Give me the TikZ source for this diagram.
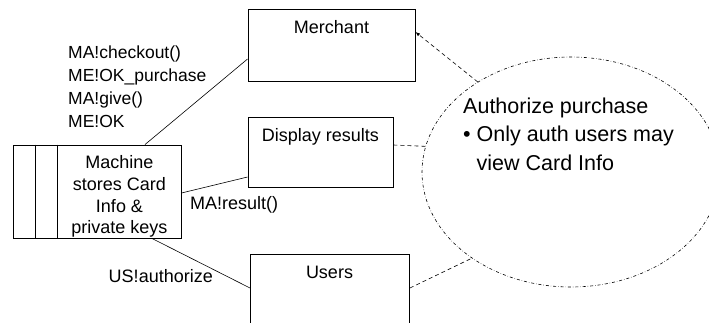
\documentclass[tikz,border=0pt]{standalone}
\usepackage{fontspec}
\setmainfont{Liberation Sans}
\usepackage{tikz}
\usetikzlibrary{arrows}
\usetikzlibrary{shapes.geometric}
\tikzset{box/.style={draw, line width=.9pt, inner sep=0pt}}
\tikzset{t/.style={font=\fontsize{18}{21.7}\selectfont, inner sep=0pt}}
\tikzset{s/.style={font=\fontsize{17.5}{23}\selectfont, inner sep=0pt}}
\tikzset{big/.style={font=\fontsize{21.5}{28.7}\selectfont, inner sep=0pt}}
\tikzset{dsh/.style={dash pattern=on 4pt off 3pt, line width=.6pt}}

\begin{document}
\begin{tikzpicture}[x=1pt,y=-1pt]
        \useasboundingbox (0,0) rectangle (709,322);
        % machine holding the card data
        \node[box, minimum width=168pt, minimum height=93pt] (mach) at (97,191.5) {};
        \draw[line width=.9pt] ([xshift=23pt]mach.north west) -- ([xshift=23pt]mach.south west);
        \draw[line width=.9pt] ([xshift=45pt]mach.north west) -- ([xshift=45pt]mach.south west);
        \node[t, align=center, anchor=north] (macht) at (119.5,155.5) {Machine\\stores Card\\Info \&\\private keys};
        % the other parties
        \node[box, minimum width=167pt, minimum height=72pt] (merchant) at (331.5,45) {};
        \node[t, anchor=base] (merchantt) at (331.5,33.5) {Merchant};
        \node[box, minimum width=145pt, minimum height=70pt] (display) at (320.5,152) {};
        \node[t, anchor=base] (displayt) at (320.5,141.5) {Display results};
        \node[box, minimum width=159pt, minimum height=80pt, anchor=north west] (users) at (250,254) {};
        \node[t, anchor=base] (userst) at (329.5,278.5) {Users};
        % property
        \node[draw, ellipse, dash dot, line width=.6pt, minimum width=298pt, minimum height=230pt, inner sep=0pt] (auth) at (571,172) {};
        \node[big, align=left, anchor=north west] (autht) at (463,97.5) {Authorize purchase\\\textbullet\ Only auth users may\\\phantom{\textbullet\ }view Card Info};
        % channels
        \draw[line width=.6pt] ([xshift=48pt]mach.north) -- ([yshift=-14pt]merchant.west);
        \draw[line width=.6pt] ([yshift=-1.5pt]mach.east) -- ([yshift=-25pt]display.west);
        \draw[line width=.6pt] ([xshift=55pt]mach.south) -- ([yshift=-34pt]users.north west);
        \node[s, align=left, anchor=north west] (chk) at (68,46) {MA!checkout()\\ME!OK\_purchase\\MA!give()\\ME!OK};
        \node[t, anchor=base west] (res) at (190,209.5) {MA!result()};
        \node[t, anchor=base east] (auz) at (213,282.5) {US!authorize};
        \draw[dsh, -latex] (auth.136) -- ([yshift=13pt]merchant.east);
        \draw[dsh] ([yshift=7pt]display.east) -- (auth.170);
        \draw[dsh] ([yshift=-34pt]users.north east) -- (auth.221);
      \end{tikzpicture}
\end{document}
